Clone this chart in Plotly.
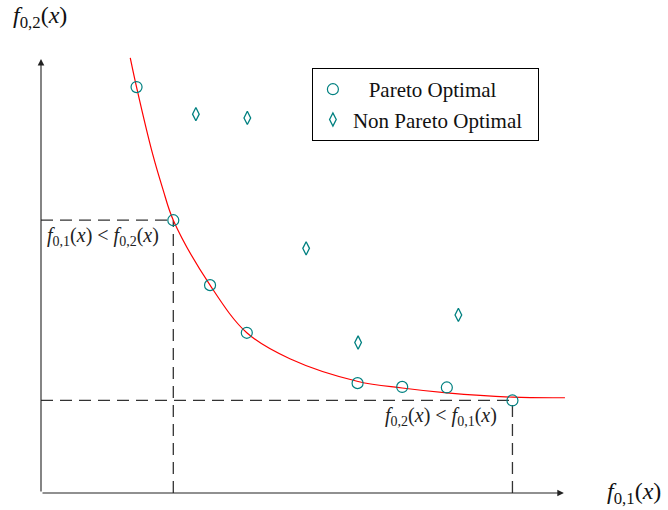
import plotly.graph_objects as go

# ---- data ----
pareto_x = [1.82, 2.52, 3.22, 3.92, 6.03, 6.88, 7.73, 8.98]
pareto_y = [7.50, 5.04, 3.84, 2.96, 2.03, 1.96, 1.95, 1.71]

non_pareto_x = [2.95, 3.93, 5.05, 6.04, 7.95]
non_pareto_y = [7.00, 6.93, 4.52, 2.78, 3.29]

front_x = [1.70, 1.82, 2.13, 2.32, 2.52, 3.22, 3.92, 4.74, 6.04, 6.88, 7.73, 8.99, 9.98]
front_y = [8.04, 7.50, 6.25, 5.62, 5.04, 3.84, 2.96, 2.48, 2.06, 1.94, 1.85, 1.77, 1.76]

x_axis_end = 9.96
y_axis_end = 8.02

TEAL = "#008080"
FONT = "Liberation Serif"

fig = go.Figure()

fig.add_trace(go.Scatter(
    x=front_x, y=front_y, mode="lines", line=dict(color="red", width=1.2, shape="spline", smoothing=1.0),
    showlegend=False, hoverinfo="skip"))

fig.add_trace(go.Scatter(
    x=pareto_x, y=pareto_y, mode="markers", name="&nbsp;&nbsp;&nbsp;Pareto Optimal",
    marker=dict(symbol="circle-open", size=11, color=TEAL, line=dict(width=1.2, color=TEAL))))

fig.add_trace(go.Scatter(
    x=non_pareto_x, y=non_pareto_y, mode="markers", name="Non Pareto Optimal&nbsp;&nbsp;",
    marker=dict(symbol="diamond-tall-open", size=9.5, color=TEAL, line=dict(width=1.3, color=TEAL))))

dash_style = dict(color="#333333", width=1.3, dash="12px,7px")
# dashed guides through the two extreme Pareto points
for i in (1, len(pareto_x) - 1):
    fig.add_shape(type="line", x0=0, x1=pareto_x[i], y0=pareto_y[i], y1=pareto_y[i],
                  xref="x", yref="y", line=dash_style, layer="below")
    fig.add_shape(type="line", x0=pareto_x[i], x1=pareto_x[i], y0=0, y1=pareto_y[i],
                  xref="x", yref="y", line=dash_style, layer="below")

# axes with arrowheads
for (xe, ye) in ((x_axis_end, 0), (0, y_axis_end)):
    fig.add_annotation(x=xe, y=ye, ax=0, ay=0, xref="x", yref="y", axref="x", ayref="y",
                       showarrow=True, arrowhead=2, arrowsize=1.2, arrowwidth=1.1,
                       arrowcolor="#222222", text="")

fig.add_annotation(x=1.18, y=4.73, xref="x", yref="y", showarrow=False,
                   xanchor="center", yanchor="middle",
                   text="<i>f</i><sub>0,1</sub>(<i>x</i>) &lt; <i>f</i><sub>0,2</sub>(<i>x</i>)",
                   font=dict(family=FONT, size=20, color="#222"))
fig.add_annotation(x=7.62, y=1.42, xref="x", yref="y", showarrow=False,
                   xanchor="center", yanchor="middle",
                   text="<i>f</i><sub>0,2</sub>(<i>x</i>) &lt; <i>f</i><sub>0,1</sub>(<i>x</i>)",
                   font=dict(family=FONT, size=20, color="#222"))

fig.add_annotation(x=-0.002, y=1.084, xref="paper", yref="paper", showarrow=False,
                   xanchor="center", yanchor="middle",
                   text="<i>f</i><sub>0,2</sub>(<i>x</i>)", font=dict(family=FONT, size=24, color="#111"))
fig.add_annotation(x=1.1295, y=0.0, xref="paper", yref="paper", showarrow=False,
                   xanchor="center", yanchor="middle",
                   text="<i>f</i><sub>0,1</sub>(<i>x</i>)", font=dict(family=FONT, size=24, color="#111"))

axis_common = dict(showgrid=False, zeroline=False, showticklabels=False, showline=False, ticks="")
fig.update_xaxes(range=[0, 10], **axis_common)
fig.update_yaxes(range=[0, 8.111], **axis_common)

fig.update_layout(
    width=668, height=510,
    margin=dict(l=41, r=102, t=54, b=17),
    plot_bgcolor="white", paper_bgcolor="white",
    font=dict(family=FONT, size=21, color="#111"),
    legend=dict(x=0.516, y=0.968, xanchor="left", yanchor="top",
                bordercolor="black", borderwidth=1, bgcolor="white",
                font=dict(family=FONT, size=21, color="#111"),
                itemwidth=30, tracegroupgap=0),
)

fig.write_html("out.html")
